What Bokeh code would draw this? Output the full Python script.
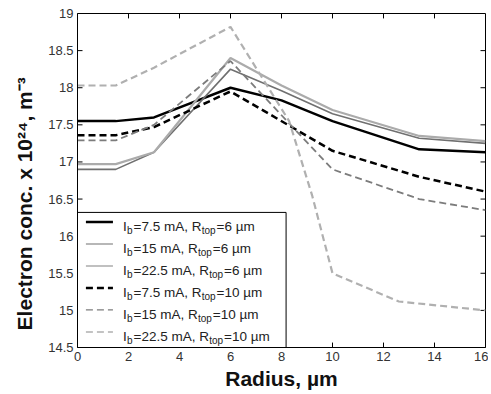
from bokeh.plotting import figure
from bokeh.models import Range1d, FixedTicker
from bokeh.core.properties import value
from bokeh.embed import file_html
from bokeh.resources import INLINE

# ---------------- data ----------------
radius_s1 = [0, 1.5, 3, 6, 8, 10, 13.4, 16]
conc_s1 = [17.55, 17.55, 17.6, 18.0, 17.83, 17.55, 17.17, 17.13]      # Ib=7.5 mA, Rtop=6
radius_s2 = [0, 1.5, 3, 6, 8, 10, 13.4, 16]
conc_s2 = [16.9, 16.9, 17.13, 18.25, 17.96, 17.65, 17.32, 17.25]      # Ib=15 mA, Rtop=6
radius_s3 = [0, 1.5, 3, 6, 8, 10, 13.4, 16]
conc_s3 = [16.97, 16.97, 17.13, 18.4, 18.03, 17.7, 17.35, 17.28]      # Ib=22.5 mA, Rtop=6
radius_s4 = [0, 1.5, 3, 6, 10, 13.4, 16]
conc_s4 = [17.36, 17.36, 17.47, 17.95, 17.15, 16.8, 16.6]             # Ib=7.5 mA, Rtop=10
radius_s5 = [0, 1.5, 3, 6, 10, 13.4, 16]
conc_s5 = [17.29, 17.29, 17.5, 18.36, 16.9, 16.5, 16.35]              # Ib=15 mA, Rtop=10
radius_s6 = [0, 1.5, 3, 6, 8.3, 9.2, 10, 12.6, 16]
conc_s6 = [18.03, 18.03, 18.27, 18.82, 17.55, 16.55, 15.5, 15.12, 15.0]  # Ib=22.5 mA, Rtop=10

currents = ["7.5", "15", "22.5", "7.5", "15", "22.5"]
rtops = ["6", "6", "6", "10", "10", "10"]

x_ticks = [0, 2, 4, 6, 8, 10, 12, 14, 16]
x_tick_labels = ["0", "2", "4", "6", "8", "10", "12", "14", "16"]
y_ticks = [14.5, 15, 15.5, 16, 16.5, 17, 17.5, 18, 18.5, 19]
y_tick_labels = ["14.5", "15", "15.5", "16", "16.5", "17", "17.5", "18", "18.5", "19"]

x_title = "Radius, µm"
y_title = "Electron conc. x 10²⁴, m⁻³"

# ---------------- styles ----------------
styles = [
    dict(color="black", width=2.5, dash="solid"),
    dict(color="#707070", width=1.6, dash="solid"),
    dict(color="#ababab", width=2.2, dash="solid"),
    dict(color="black", width=2.5, dash="7 4"),
    dict(color="#7c7c7c", width=1.8, dash="7 4"),
    dict(color="#b0b0b0", width=2.2, dash="7 4"),
]
series = [(radius_s1, conc_s1), (radius_s2, conc_s2), (radius_s3, conc_s3),
          (radius_s4, conc_s4), (radius_s5, conc_s5), (radius_s6, conc_s6)]

FONT = "Liberation Sans"
W, H = 488, 392
X0, X1, Y0, Y1 = 0, 16, 14.5, 19

p = figure(width=W, height=H, x_range=Range1d(X0, X1), y_range=Range1d(Y0, Y1),
           output_backend="svg", toolbar_location=None,
           min_border_left=77, min_border_right=3, min_border_top=13, min_border_bottom=40)
p.xgrid.visible = False
p.ygrid.visible = False
p.outline_line_color = "black"
p.outline_line_width = 1
p.background_fill_color = "white"
p.border_fill_color = "white"

for ax, ticks, labels in ((p.xaxis[0], x_ticks, x_tick_labels), (p.yaxis[0], y_ticks, y_tick_labels)):
    ax.ticker = FixedTicker(ticks=ticks)
    ax.major_label_overrides = {t: l for t, l in zip(ticks, labels)}
    ax.major_label_text_font_size = "13px"
    ax.major_label_text_font = FONT
    ax.major_label_text_color = "#333333"
    ax.major_label_standoff = 4
    ax.major_tick_in = 0
    ax.major_tick_out = 0
    ax.minor_tick_line_color = None
    ax.axis_line_color = "black"
    ax.axis_label_text_font = FONT
    ax.axis_label_text_font_size = "21px"
    ax.axis_label_text_font_style = "bold"
    ax.axis_label_text_color = "#111111"

p.xaxis.axis_label = x_title
p.xaxis.axis_label_standoff = 3
# trailing no-break spaces shift the centred title a little downwards, as in the original
p.yaxis.axis_label = y_title + "\u00a0" * 8
p.yaxis.axis_label_standoff = 9

# inward tick marks on all four sides (MATLAB box style)
frame_w = W - 77 - 3
frame_h = H - 13 - 40
tick_px = 5
dx = tick_px * (X1 - X0) / frame_w
dy = tick_px * (Y1 - Y0) / frame_h
inner_x = [t for t in x_ticks if X0 < t < X1]
inner_y = [t for t in y_ticks if Y0 < t < Y1]
tick_kw = dict(line_color="black", line_width=1)
p.segment(x0=inner_x, y0=[Y0] * len(inner_x), x1=inner_x, y1=[Y0 + dy] * len(inner_x), **tick_kw)
p.segment(x0=inner_x, y0=[Y1] * len(inner_x), x1=inner_x, y1=[Y1 - dy] * len(inner_x), **tick_kw)
p.segment(x0=[X0] * len(inner_y), y0=inner_y, x1=[X0 + dx] * len(inner_y), y1=inner_y, **tick_kw)
p.segment(x0=[X1] * len(inner_y), y0=inner_y, x1=[X1 - dx] * len(inner_y), y1=inner_y, **tick_kw)

for (xs, ys), st in zip(series, styles):
    p.line(xs, ys, line_color=st["color"], line_width=st["width"], line_dash=st["dash"])

# ---------------- font metrics (Arial / Liberation Sans) ----------------
ARIAL = {' ': 278, ',': 278, '.': 278, '=': 584, 'A': 667, 'I': 278, 'R': 722,
         'b': 556, 'm': 833, 'o': 556, 'p': 556, 't': 278, 'µ': 576, '-': 333}
for d in "0123456789":
    ARIAL[d] = 556

def tw(s, size, table=ARIAL):
    return sum(table.get(c, 556) for c in s) / 1000.0 * size

# ---------------- legend (manual, to allow subscripts) ----------------
leg_left, leg_right, leg_top, leg_bottom = 0, 8.18, 16.32, 14.5
p.quad(left=[leg_left], right=[leg_right], top=[leg_top], bottom=[leg_bottom],
       fill_color="white", line_color="black", line_width=1)

row_first = 16.19
row_step = 0.296
sample_x0, sample_x1 = 0.33, 1.39
text_x = 1.78

MAIN = 13.5
SUB = 10
for i, st in enumerate(styles):
    yy = row_first - i * row_step
    p.segment(x0=[sample_x0], y0=[yy], x1=[sample_x1], y1=[yy], line_color=st["color"],
              line_width=st["width"] if i in (0, 3) else st["width"] * 0.7,
              line_dash=st["dash"])
    pieces = [("I", MAIN, 0), ("b", SUB, 1),
              ("=" + currents[i] + " mA, R", MAIN, 0), ("top", SUB, 1),
              ("=" + rtops[i] + " µm", MAIN, 0)]
    xo = 0.0
    for txt, size, is_sub in pieces:
        p.text(x=[text_x], y=[yy], text=[txt], x_offset=xo,
               y_offset=8.5 if is_sub else 4.5,
               text_font=value(FONT), text_font_size=f"{size}px",
               text_color="#222222", text_baseline="alphabetic", text_align="left")
        xo += tw(txt, size) + (1.0 if is_sub else 0.3)

open("out.html", "w").write(file_html(p, INLINE))
